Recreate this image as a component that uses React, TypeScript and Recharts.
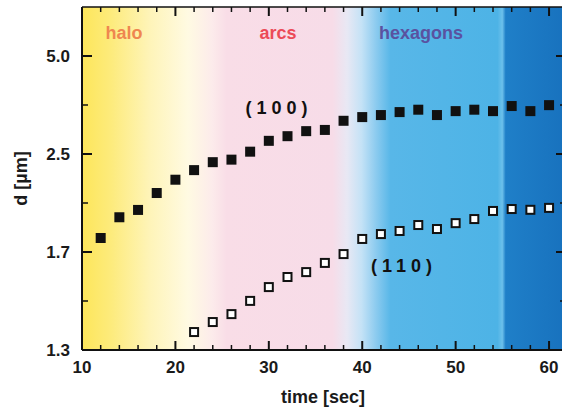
import { ScatterChart, Scatter, XAxis, YAxis, CartesianGrid, ReferenceLine } from "recharts";

// time axis (sec)
const xMajor = [10, 20, 30, 40, 50, 60];
const xMinor = [12, 14, 16, 18, 22, 24, 26, 28, 32, 34, 36, 38, 42, 44, 46, 48, 52, 54, 56, 58];

// y axis is linear in 1/d, labelled in d
const yMajor = [0.2, 0.4, 0.6, 0.8];
const yLabels = ["5.0", "2.5", "1.7", "1.3"];
const yMinor = [0.3, 0.5, 0.7];

// (100) reflection, filled squares
const t100 = [12, 14, 16, 18, 20, 22, 24, 26, 28, 30, 32, 34, 36, 38, 40, 42, 44, 46, 48, 50, 52, 54, 56, 58, 60];
const d100 = [1.75, 1.89, 1.945, 2.085, 2.21, 2.31, 2.4, 2.43, 2.53, 2.68, 2.75, 2.83, 2.85, 3.01, 3.08, 3.12, 3.18, 3.23, 3.12, 3.2, 3.23, 3.2, 3.31, 3.2, 3.33];

// (110) reflection, open squares
const t110 = [22, 24, 26, 28, 30, 32, 34, 36, 38, 40, 42, 44, 46, 48, 50, 52, 54, 56, 58, 60];
const d110 = [1.31, 1.346, 1.376, 1.429, 1.489, 1.536, 1.56, 1.607, 1.655, 1.744, 1.775, 1.795, 1.835, 1.808, 1.848, 1.877, 1.937, 1.952, 1.946, 1.961];

const X_MAX = 61.6;
const FONT = "'Liberation Sans', Arial, Helvetica, sans-serif";

// chart box: plot area runs from these edges
const W = 564;
const H = 408;
const TOP = 7;
const X_AXIS_H = 58;
const Y_AXIS_W = 82;
const BOTTOM = H - X_AXIS_H;

const pts100 = t100.map((t, i) => ({ t, q: 1 / d100[i] }));
const pts110 = t110.map((t, i) => ({ t, q: 1 / d110[i] }));

const xTicks = [...xMajor, ...xMinor].sort((a, b) => a - b);
const yTicks = [...yMajor, ...yMinor].sort((a, b) => a - b);
const isMajor = (list: number[], v: number) => list.some((m) => Math.abs(m - v) < 1e-9);

const tickStyle = { fontSize: 17, fontWeight: 700, fill: "#1a1a1a", fontFamily: FONT };
const textStyle = { fontSize: 18, fontWeight: 700, fontFamily: FONT };

const FilledSquare = (p: any) => (
  <rect x={p.cx - 5} y={p.cy - 5} width={10} height={10} fill="#111" />
);
const OpenSquare = (p: any) => (
  <rect x={p.cx - 4} y={p.cy - 4} width={8} height={8} fill="#fff" stroke="#111" strokeWidth={2} />
);

// inward tick marks on bottom and top edge, label only on major ticks
const XTick = (p: any) => {
  const v = p.payload.value;
  const c = p.payload.coordinate ?? p.x;
  const major = isMajor(xMajor, v);
  const len = major ? 9 : 5;
  const sw = major ? 2 : 1.5;
  return (
    <g>
      <line x1={c} x2={c} y1={BOTTOM} y2={BOTTOM - len} stroke="#111" strokeWidth={sw} />
      <line x1={c} x2={c} y1={TOP} y2={TOP + len} stroke="#111" strokeWidth={sw} />
      {major && (
        <text x={p.x} y={p.y} dy="0.71em" textAnchor="middle" style={tickStyle}>
          {v}
        </text>
      )}
    </g>
  );
};

// inward tick marks on left and right edge
const YTick = (p: any) => {
  const v = p.payload.value;
  const c = p.payload.coordinate ?? p.y;
  const major = isMajor(yMajor, v);
  const len = major ? 10 : 6;
  const sw = major ? 2 : 1.5;
  return (
    <g>
      <line x1={Y_AXIS_W} x2={Y_AXIS_W + len} y1={c} y2={c} stroke="#111" strokeWidth={sw} />
      <line x1={W} x2={W - len + 2} y1={c} y2={c} stroke="#111" strokeWidth={sw} />
      {major && (
        <text x={p.x} y={p.y} dy="0.355em" textAnchor="end" style={tickStyle}>
          {yLabels[Math.round(v * 5) - 1]}
        </text>
      )}
    </g>
  );
};

export default function App() {
  return (
    <div style={{ position: "absolute", left: 0, top: 0, width: 562, height: H, overflow: "hidden" }}>
      <ScatterChart width={W} height={H} margin={{ top: TOP, right: 0, bottom: 0, left: 0 }}>
        <defs>
          <linearGradient id="phases" x1="0" y1="0" x2="1" y2="0">
            <stop offset="0" stopColor="#fde65a" />
            <stop offset="0.06" stopColor="#fdeb7c" />
            <stop offset="0.14" stopColor="#fef4b8" />
            <stop offset="0.22" stopColor="#fffae2" />
            <stop offset="0.27" stopColor="#fcebeb" />
            <stop offset="0.30" stopColor="#f9dde7" />
            <stop offset="0.52" stopColor="#f7dce8" />
            <stop offset="0.55" stopColor="#e8e8f4" />
            <stop offset="0.58" stopColor="#c4e2f6" />
            <stop offset="0.61" stopColor="#8ccbef" />
            <stop offset="0.64" stopColor="#58b7e8" />
            <stop offset="0.862" stopColor="#4db3e6" />
            <stop offset="0.872" stopColor="#6cc0eb" />
            <stop offset="0.879" stopColor="#1f7fc8" />
            <stop offset="1" stopColor="#1872be" />
          </linearGradient>
        </defs>

        <CartesianGrid xAxisId="x" yAxisId="y" horizontal={false} vertical={false} fill="url(#phases)" fillOpacity={1} />

        <XAxis
          xAxisId="x"
          dataKey="t"
          type="number"
          domain={[10, X_MAX]}
          allowDataOverflow
          ticks={xTicks}
          interval={0}
          tickLine={false}
          tickSize={6}
          tickMargin={5}
          height={X_AXIS_H}
          axisLine={{ stroke: "#111", strokeWidth: 2 }}
          tick={XTick}
          label={{ value: "time [sec]", position: "insideBottom", offset: 5, style: { ...textStyle, fill: "#1a1a1a" } }}
        />
        <YAxis
          yAxisId="y"
          dataKey="q"
          type="number"
          domain={[0.1, 0.8]}
          reversed
          allowDataOverflow
          width={Y_AXIS_W}
          ticks={yTicks}
          interval={0}
          tickLine={false}
          tickSize={6}
          tickMargin={6}
          axisLine={{ stroke: "#111", strokeWidth: 2 }}
          tick={YTick}
          label={{ value: "d [µm]", angle: -90, position: "insideLeft", offset: 21, style: { ...textStyle, fill: "#1a1a1a", textAnchor: "middle" } }}
        />

        <ReferenceLine xAxisId="x" yAxisId="y" y={0.1} stroke="#111" strokeWidth={1.5} />

        <Scatter xAxisId="x" yAxisId="y" data={pts100} shape={FilledSquare} isAnimationActive={false} />
        <Scatter xAxisId="x" yAxisId="y" data={pts110} shape={OpenSquare} isAnimationActive={false} />

        <text x={124} y={39} textAnchor="middle" style={{ ...textStyle, fill: "#ef8650" }}>halo</text>
        <text x={278} y={39} textAnchor="middle" style={{ ...textStyle, fill: "#ec4a58" }}>arcs</text>
        <text x={421} y={39} textAnchor="middle" style={{ ...textStyle, fill: "#5a52a0" }}>hexagons</text>
        <text x={279} y={114} textAnchor="middle" letterSpacing={5} style={{ ...textStyle, fill: "#111" }}>(100)</text>
        <text x={404} y={272} textAnchor="middle" letterSpacing={5} style={{ ...textStyle, fill: "#111" }}>(110)</text>
      </ScatterChart>
    </div>
  );
}
